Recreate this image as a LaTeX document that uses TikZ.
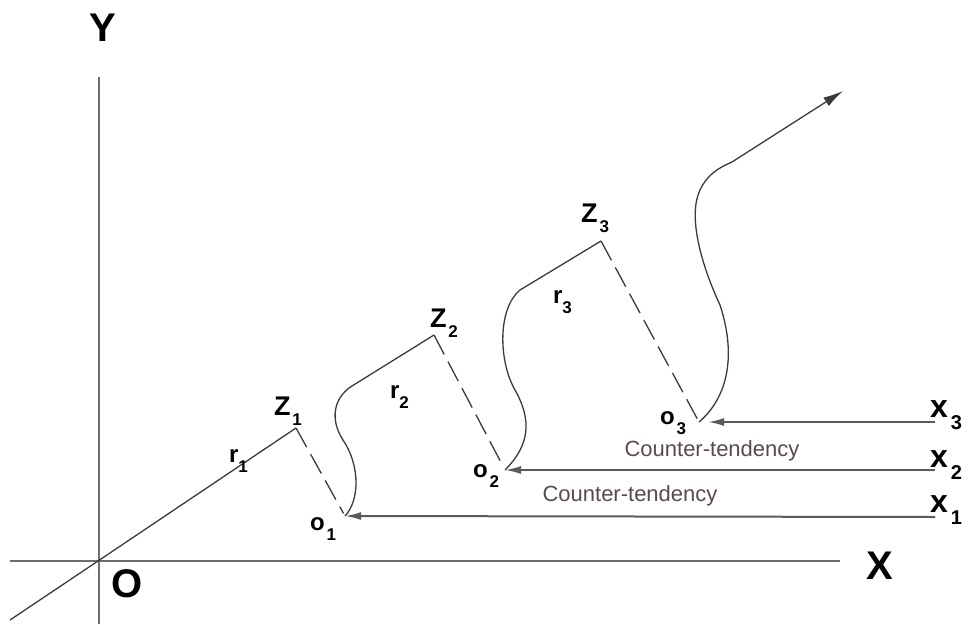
\documentclass[tikz,border=0pt]{standalone}
\usepackage{fontspec}
\setmainfont{Liberation Sans}
\usetikzlibrary{arrows.meta}
\definecolor{linegray}{HTML}{3A3A3A}
\definecolor{axisgray}{HTML}{6E6E6E}
\definecolor{arrowgray}{HTML}{5A5A5A}
\definecolor{tendcol}{HTML}{5A4A4A}
\newcommand{\lbl}[3]{#1\hspace{#3}\raisebox{-10pt}{\fontsize{17}{17}\selectfont\bfseries #2}}
\newcommand{\xlbl}[2]{#1\hspace{3pt}\raisebox{-12pt}{\fontsize{20}{20}\selectfont\bfseries #2}}
\begin{document}
\begin{tikzpicture}[x=1pt,y=-1pt]
\tikzset{ >={Latex[length=16pt,width=8pt]}, inner sep=0pt, outer sep=0pt,
  axis/.style={line width=2.2pt, draw=axisgray},
  vec/.style={line width=1.3pt, draw=linegray},
  proj/.style={vec, dash pattern=on 22pt off 8pt, shorten >=3pt},
  push/.style={->, line width=2pt, draw=arrowgray},
  big/.style={font=\fontsize{40}{40}\selectfont\bfseries},
  lab/.style={anchor=base west, font=\fontsize{27}{27}\selectfont\bfseries},
  slab/.style={anchor=base west, font=\fontsize{24}{24}\selectfont\bfseries},
  xlab/.style={anchor=base west, font=\fontsize{32}{32}\selectfont\bfseries},
  tend/.style={anchor=base, text=tendcol, font=\fontsize{22}{22}\selectfont} }
\useasboundingbox (0,0) rectangle (971,624);

% points
\coordinate (O) at (98,561);
\coordinate (tail) at (10,620);
\coordinate (Ytop) at (99,77);
\coordinate (Ybot) at (99,624);
\coordinate (Xl) at (10,561);
\coordinate (Xr) at (840,561);
\coordinate (Z1) at (296,428);
\coordinate (Z2) at (434,335);
\coordinate (Z3) at (601,241);
\coordinate (o1) at (345,516);
\coordinate (o2) at (505,470);
\coordinate (o3) at (699,422);
\coordinate (x1) at (935,517);
\coordinate (x2) at (935,470);
\coordinate (x3) at (935,422);
\coordinate (tip) at (843,91);

% axes
\draw [axis] (Ybot) -- (Ytop);
\draw [axis] (Xl) -- (Xr);

% radii
\draw [vec] (tail) -- (O) -- (Z1);
\draw [vec] (o1) .. controls (360,500) and (360,465) .. (343,440)
  .. controls (330,420) and (333,398) .. (352,386) -- (Z2);
\draw [vec] (o2) .. controls (530,445) and (532,420) .. (515,390)
  .. controls (498,360) and (498,308) .. (520,290) -- (Z3);
\draw [vec, ->, >={Latex[length=20pt,width=10pt]}] (o3)
  .. controls (725,400) and (738,360) .. (720,305)
  .. controls (700,262) and (688,215) .. (700,190)
  .. controls (707,175) and (718,168) .. (732,162) -- (tip);

\draw [proj] (Z1) -- (o1);
\draw [proj] (Z2) -- (o2);
\draw [proj] (Z3) -- (o3);

% counter-tendencies
\draw [push] (x1) -- (o1);
\draw [push] (x2) -- (o2);
\draw [push, shorten >=9pt] (x3) -- (o3);

\node [big] (lY) at (103,28) {Y};
\node [big] (lX) at (880,566) {X};
\node [big] (lO) at (127,584) {O};

\node [lab] (lZ1) at (274,415) {\lbl{Z}{1}{2pt}};
\node [lab] (lZ2) at (430,327) {\lbl{Z}{2}{2pt}};
\node [lab] (lZ3) at (581,222) {\lbl{Z}{3}{2pt}};

\node [slab] (lr1) at (229,462) {\lbl{r}{1}{0pt}};
\node [slab] (lr2) at (390,398) {\lbl{r}{2}{0pt}};
\node [slab] (lr3) at (553,303) {\lbl{r}{3}{0pt}};

\node [slab] (lo1) at (310,530) {\lbl{o}{1}{2pt}};
\node [slab] (lo2) at (473,477) {\lbl{o}{2}{2pt}};
\node [slab] (lo3) at (660,424) {\lbl{o}{3}{2pt}};

\node [xlab] (lx1) at (930,512) {\xlbl{x}{1}};
\node [xlab] (lx2) at (930,467) {\xlbl{x}{2}};
\node [xlab] (lx3) at (930,417) {\xlbl{x}{3}};

\node [tend] (ct1) at (712,456) {Counter-tendency};
\node [tend] (ct2) at (630,501) {Counter-tendency};

\end{tikzpicture}
\end{document}
